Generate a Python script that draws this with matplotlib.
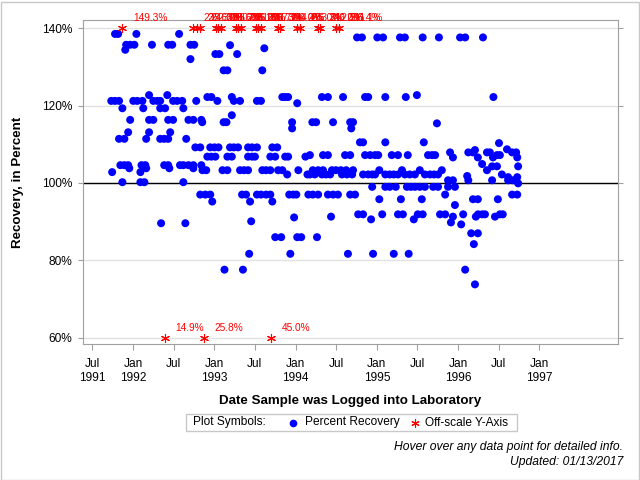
import numpy as np
import pandas as pd
import matplotlib
matplotlib.use('Agg')
import matplotlib.pyplot as plt
import matplotlib.dates as mdates
from matplotlib.lines import Line2D
from matplotlib.patches import Rectangle

plt.rcParams['font.family'] = ['Liberation Sans', 'DejaVu Sans']

# ---- data: percent recovery, grouped by recovery level -------------------
pct_levels = [138.5, 135.7, 135.6, 134.4, 134.8, 133.3, 132.0, 129.1, 137.6,
              122.7, 122.2, 121.2, 120.6, 119.3, 117.5, 116.3, 115.7, 115.4,
              114.1, 113.1, 111.4, 110.5, 110.3, 109.2, 108.7, 108.5, 107.9,
              107.2, 106.8, 106.6, 104.9, 104.3, 104.6, 103.8, 102.8, 103.3,
              102.2, 101.8, 101.5, 100.7, 99.9, 100.2, 99.0, 97.0, 95.2, 95.8,
              94.3, 91.9, 91.3, 91.1, 90.6, 90.1, 89.8, 89.6, 89.3, 87.0, 86.0,
              84.2, 81.7, 77.6, 73.8]

dates_by_level = [
    ['1991-10-12', '1991-10-26', '1992-01-16', '1992-07-26'],
    ['1991-12-01', '1991-12-19', '1992-01-07', '1992-03-26', '1992-06-07',
     '1992-06-25', '1992-09-15', '1992-10-02'],
    ['1993-03-12'],
    ['1991-11-27'],
    ['1993-08-13'],
    ['1993-01-05', '1993-01-23', '1993-04-13'],
    ['1992-09-15'],
    ['1993-02-11', '1993-02-28', '1993-08-04'],
    ['1994-10-04', '1994-10-26', '1995-01-03', '1995-01-29', '1995-04-15',
     '1995-05-07', '1995-07-26', '1995-10-07', '1996-01-10', '1996-02-02',
     '1996-04-22'],
    ['1992-03-13', '1992-06-03', '1995-06-30'],
    ['1992-11-30', '1992-12-18', '1993-03-20', '1993-11-02', '1993-11-15',
     '1993-11-28', '1994-04-29', '1994-05-26', '1994-08-02', '1994-11-09',
     '1994-11-23', '1995-02-08', '1995-05-11', '1996-06-08'],
    ['1991-09-25', '1991-10-12', '1991-10-30', '1992-01-02', '1992-01-20',
     '1992-02-12', '1992-04-01', '1992-04-19', '1992-05-02', '1992-06-29',
     '1992-07-17', '1992-08-09', '1992-10-11', '1993-01-14', '1993-03-29',
     '1993-04-26', '1993-07-11', '1993-07-29'],
    ['1994-01-08'],
    ['1991-11-14', '1992-02-16', '1992-05-02', '1992-05-24', '1992-08-14'],
    ['1993-03-20'],
    ['1991-12-19', '1992-03-13', '1992-04-01', '1992-06-07', '1992-06-29',
     '1992-09-06', '1992-09-28', '1992-11-03'],
    ['1992-11-07', '1993-02-11', '1993-02-24', '1993-12-16', '1994-03-17',
     '1994-04-03', '1994-06-18', '1994-09-03', '1994-09-16'],
    ['1995-09-28'],
    ['1993-12-16', '1994-09-08'],
    ['1991-12-10', '1992-03-13', '1992-06-16'],
    ['1991-10-30', '1991-11-23', '1992-02-29', '1992-05-02', '1992-05-20',
     '1992-06-07', '1992-08-27'],
    ['1994-10-17', '1994-10-31', '1995-02-08', '1995-07-31'],
    ['1996-07-03'],
    ['1992-10-07', '1992-10-29', '1992-12-13', '1993-01-01', '1993-01-19',
     '1993-03-12', '1993-03-29', '1993-04-17', '1993-06-01', '1993-06-19',
     '1993-07-11', '1993-09-18', '1993-10-10'],
    ['1996-08-08'],
    ['1996-03-17'],
    ['1995-11-26', '1996-02-16', '1996-03-08', '1996-05-10', '1996-05-23',
     '1996-08-31', '1996-09-18'],
    ['1994-03-06', '1994-05-04', '1994-05-26', '1994-08-11', '1994-09-03',
     '1994-11-09', '1994-12-02', '1994-12-24', '1995-01-07', '1995-03-09',
     '1995-04-06', '1995-05-20', '1995-08-19', '1995-09-06', '1995-09-20',
     '1996-06-24', '1996-07-07'],
    ['1992-11-30', '1992-12-18', '1993-01-05', '1993-02-28', '1993-03-20',
     '1993-06-01', '1993-06-19', '1993-07-02', '1993-09-09', '1993-10-01',
     '1993-11-15', '1993-11-28', '1994-02-14'],
    ['1995-12-09', '1996-03-30', '1996-06-06', '1996-09-23'],
    ['1996-04-18'],
    ['1996-06-02', '1996-06-24', '1996-09-27'],
    ['1991-11-05', '1991-11-23', '1991-12-10', '1992-02-08', '1992-02-25',
     '1992-05-20', '1992-06-07', '1992-07-30', '1992-08-14', '1992-09-06',
     '1992-09-28', '1992-11-03'],
    ['1991-12-15', '1992-02-29', '1992-06-12', '1992-09-28'],
    ['1991-09-29', '1992-02-03'],
    ['1992-11-08', '1992-11-25', '1993-02-06', '1993-02-28', '1993-04-26',
     '1993-05-14', '1993-06-01', '1993-08-04', '1993-08-21', '1993-09-09',
     '1993-10-14', '1993-11-02', '1994-01-13', '1994-03-19', '1994-04-12',
     '1994-05-04', '1994-06-13', '1994-07-01', '1994-07-23', '1994-08-16',
     '1994-09-16', '1995-01-12', '1995-04-24', '1995-07-13', '1995-10-20',
     '1996-05-10'],
    ['1993-11-24', '1994-02-23', '1994-03-06', '1994-03-28', '1994-04-29',
     '1994-05-17', '1994-06-05', '1994-07-28', '1994-08-20', '1994-09-12',
     '1994-10-31', '1994-11-23', '1994-12-11', '1994-12-24', '1995-02-08',
     '1995-02-28', '1995-03-18', '1995-04-06', '1995-05-07', '1995-05-29',
     '1995-06-21', '1995-08-05', '1995-08-28', '1995-09-15', '1995-10-03',
     '1996-07-16'],
    ['1996-02-11'],
    ['1996-08-13', '1996-09-23'],
    ['1995-11-17', '1995-12-09', '1996-02-16', '1996-06-02', '1996-08-13',
     '1996-09-05'],
    ['1996-09-27'],
    ['1991-11-14', '1992-02-03', '1992-02-21', '1992-08-14'],
    ['1994-12-11', '1995-02-08', '1995-02-28', '1995-03-27', '1995-05-16',
     '1995-06-03', '1995-06-21', '1995-07-13', '1995-08-05', '1995-09-11',
     '1995-10-03', '1995-11-17', '1995-12-18'],
    ['1992-10-29', '1992-11-21', '1992-12-13', '1993-05-05', '1993-05-23',
     '1993-07-11', '1993-07-29', '1993-08-21', '1993-09-09', '1993-12-03',
     '1993-12-21', '1994-01-04', '1994-02-27', '1994-03-19', '1994-04-12',
     '1994-05-26', '1994-06-18', '1994-07-10', '1994-09-03', '1994-09-25',
     '1995-11-04', '1996-08-31', '1996-09-23'],
    ['1992-12-22', '1993-06-10', '1993-09-18'],
    ['1995-01-12', '1995-04-19', '1995-07-22', '1996-03-08', '1996-03-30',
     '1996-06-28'],
    ['1995-12-18'],
    ['1994-10-09', '1994-10-31', '1995-01-25', '1995-04-06', '1995-04-28',
     '1995-07-04', '1995-07-26', '1995-10-12', '1995-11-04', '1996-01-24',
     '1996-03-31', '1996-04-18', '1996-05-01', '1996-07-07', '1996-07-20'],
    ['1994-06-09', '1995-12-09', '1996-03-21', '1996-06-15'],
    ['1993-12-25'],
    ['1994-12-06', '1995-06-16'],
    ['1993-06-15'],
    ['1995-11-30'],
    ['1992-05-06', '1992-08-23'],
    ['1996-01-15'],
    ['1996-02-29', '1996-03-30'],
    ['1993-10-01', '1993-10-28', '1994-01-08', '1994-01-26', '1994-04-07'],
    ['1996-03-12'],
    ['1993-06-06', '1993-12-08', '1994-08-24', '1994-12-15', '1995-03-18',
     '1995-05-24'],
    ['1993-02-15', '1993-05-09', '1996-02-02'],
    ['1996-03-17'],
]

# samples whose recovery falls outside the 60-140% axis
offscale_dates = ['1991-11-14', '1992-09-28', '1992-10-16', '1992-10-29',
                  '1993-01-10', '1993-01-19', '1993-02-01', '1993-04-09',
                  '1993-04-17', '1993-04-30', '1993-07-07', '1993-07-16',
                  '1993-07-29', '1993-10-12', '1993-10-22', '1994-01-08',
                  '1994-01-22', '1994-04-12', '1994-04-20', '1994-07-01',
                  '1994-07-14',
                  '1992-05-24', '1992-11-16', '1993-09-13']
offscale_pct = [149.3, 233.3, 262.5, 246.0, 228.6, 285.7, 300.0, 238.1,
                255.6, 281.8, 266.7, 231.3, 207.7, 300.0, 244.4, 255.0,
                283.3, 240.0, 212.5, 236.4, 211.1,
                14.9, 25.8, 45.0]

y_ticks = [60, 80, 100, 120, 140]
tick_dates = ['1991-07-01', '1992-01-01', '1992-07-01', '1993-01-01',
              '1993-07-01', '1994-01-01', '1994-07-01', '1995-01-01',
              '1995-07-01', '1996-01-01', '1996-07-01', '1997-01-01']
tick_labels = ['Jul\n1991', 'Jan\n1992', 'Jul', 'Jan\n1993', 'Jul',
               'Jan\n1994', 'Jul', 'Jan\n1995', 'Jul', 'Jan\n1996', 'Jul',
               'Jan\n1997']

Y_LO, Y_HI = 60, 140
FRAME = '#a0a0a0'

dates, pct = [], []
for lvl, ds in zip(pct_levels, dates_by_level):
    dates += ds
    pct += [lvl] * len(ds)
dates = mdates.date2num(pd.to_datetime(dates))

# -------------------------------------------------------------------------
fig = plt.figure(figsize=(6.4, 4.8), dpi=100)
W, H = 640, 480
ax = fig.add_axes([83 / W, 1 - 344 / H, 535 / W, 324 / H])

ax.scatter(dates, pct, s=33, c='#0000ff', edgecolors='none', zorder=3)

off_x = mdates.date2num(pd.to_datetime(offscale_dates))
off_y = np.clip(offscale_pct, Y_LO, Y_HI)
ax.scatter(off_x, off_y, marker=(6, 2, 0), s=34, c='red', linewidths=0.8,
           zorder=4, clip_on=False)
for x, v, y in zip(off_x, offscale_pct, off_y):
    ax.annotate(f'{v:.1f}%', (x, y), xytext=(7.5, 7), textcoords='offset points',
                color='red', fontsize=7.3, ha='left', va='center',
                annotation_clip=False)

ax.axhline(100, color='black', lw=1, zorder=2)

ax.set_ylim(58.4, 142.1)
ax.set_xlim(mdates.date2num(pd.Timestamp('1991-05-21')),
            mdates.date2num(pd.Timestamp('1997-12-20')))
ax.set_yticks(y_ticks)
ax.set_yticklabels([f'{t}%' for t in y_ticks])
ax.set_xticks(mdates.date2num(pd.to_datetime(tick_dates)))
ax.set_xticklabels(tick_labels, linespacing=1.3)
ax.yaxis.grid(True, color='#e1e1e1', lw=1)
ax.set_axisbelow(True)

ax.tick_params(axis='y', left=True, right=True, direction='out', length=3.6,
               color=FRAME, labelsize=8.6, pad=4)
ax.tick_params(axis='x', bottom=True, direction='out', length=4.3,
               color=FRAME, labelsize=8.6, pad=5.5)
for sp in ax.spines.values():
    sp.set_color(FRAME)

fig.text(350.5 / W, 1 - 401 / H, 'Date Sample was Logged into Laboratory',
         ha='center', va='center', fontsize=9.6, fontweight='bold')
fig.text(18 / W, 1 - 182 / H, 'Recovery, in Percent', rotation=90,
         ha='center', va='center', fontsize=9.6, fontweight='bold')

# legend box
fig.add_artist(Rectangle((186 / W, 1 - 431 / H), 331 / W, 17 / H,
                         transform=fig.transFigure, fill=False,
                         edgecolor='#c8c8c8', lw=1))
ly = 1 - 422.5 / H
fig.text(193 / W, ly, 'Plot Symbols:', va='center', fontsize=8.6)
fig.add_artist(Line2D([293 / W], [ly], marker='o', ms=5.5, color='#0000ff',
                      mec='none', transform=fig.transFigure))
fig.text(305 / W, ly, 'Percent Recovery', va='center', fontsize=8.6)
fig.add_artist(Line2D([415 / W], [ly], marker=(6, 2, 0), ms=6, color='red',
                      mew=0.8, transform=fig.transFigure))
fig.text(425 / W, ly, 'Off-scale Y-Axis', va='center', fontsize=8.6)

fig.text(623 / W, 1 - 447 / H, 'Hover over any data point for detailed info.',
         ha='right', va='center', fontsize=8.7, style='italic')
fig.text(623 / W, 1 - 462 / H, 'Updated: 01/13/2017',
         ha='right', va='center', fontsize=8.7, style='italic')

fig.add_artist(Rectangle((0.5 / W, 0.5 / H), 1 - 2 / W, 1 - 2 / H,
                         transform=fig.transFigure, fill=False,
                         edgecolor='#c8c8c8', lw=1))

fig.savefig('out.png', dpi=100)
